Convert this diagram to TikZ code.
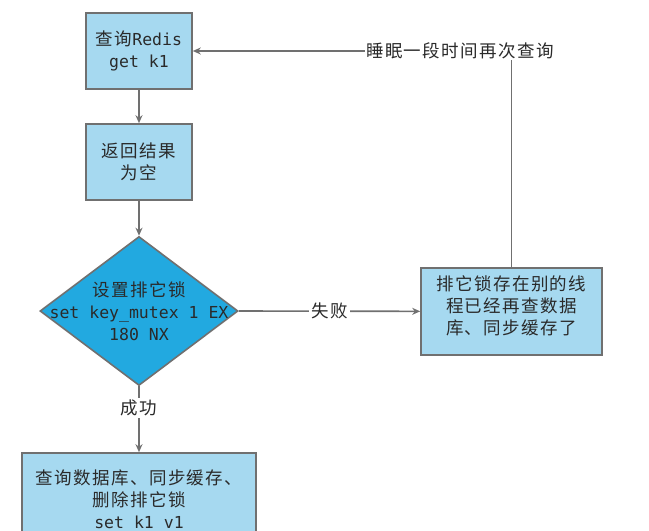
\documentclass[tikz,border=0pt]{standalone}
\usepackage{fontspec}
\setmainfont{Noto Sans CJK SC}[LetterSpace=8]
\newfontfamily\monof{DejaVu Sans Mono}
\usetikzlibrary{shapes.geometric,arrows.meta}
\definecolor{boxfill}{HTML}{A6D9F0}
\definecolor{diafill}{HTML}{22A9E0}
\definecolor{edge}{HTML}{707070}
\definecolor{txt}{HTML}{2A2A2A}
\newcommand{\mymono}{\monof\fontsize{16.5}{22}\selectfont}
\begin{document}
\begin{tikzpicture}[x=1pt,y=-1pt,
  font=\fontsize{17.5}{22}\selectfont, text=txt,
  box/.style={draw=edge, line width=1.6pt, fill=boxfill, rectangle, align=center, inner sep=0pt},
  conn/.style={draw=edge, line width=1.6pt, -{Stealth[length=8pt,width=7pt]}},
  lab/.style={fill=white, inner sep=2pt}]
\useasboundingbox (0,0) rectangle (649,531);
\fill[white] (0,0) rectangle (649,531);
\node[box, minimum width=106pt, minimum height=76pt] (b1) at (139,51) {查询{\mymono Redis}\\{\mymono get k1}};
\node[box, minimum width=106pt, minimum height=76pt] (b2) at (139,162) {返回结果\\为空};
\node[diamond, draw=edge, line width=1.6pt, fill=diafill, minimum width=198pt, minimum height=149pt, inner sep=0pt] (d) at (139,311) {};
\node[align=center] (dt) at (139,311) {设置排它锁\\{\mymono set key\_mutex 1 EX}\\{\mymono 180 NX}};
\node[box, minimum width=181pt, minimum height=87pt] (b4) at (511.5,311.5) {};
\node[align=center] (b4t) at (511.5,306) {排它锁存在别的线\\程已经再查数据\\库、同步缓存了};
\node[box, minimum width=234pt, minimum height=92pt] (b5) at (139,499) {查询数据库、同步缓存、\\删除排它锁\\{\mymono set k1 v1}};
\draw[conn] (b1) -- (b2);
\draw[conn] (b2) -- (d.north);
\draw[conn] (d.east) -- node[lab] (fail) {失败} (b4);
\draw[conn] (d.south) -- node[lab, pos=0.33] (ok) {成功} (b5);
\draw[conn] (b4.north) |- (b1.east);
\node[lab, inner sep=1pt] (sleep) at (460,51) {睡眠一段时间再次查询};
\end{tikzpicture}
\end{document}
